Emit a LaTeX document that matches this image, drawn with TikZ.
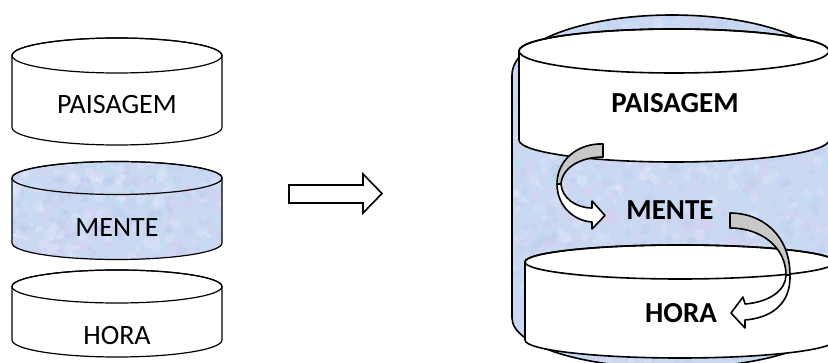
\documentclass[tikz,border=0pt]{standalone}
\usepackage{fontspec}
\setmainfont{Carlito}
\definecolor{marble}{RGB}{203,216,242}
\definecolor{blob0}{RGB}{222,205,238}
\definecolor{blob1}{RGB}{188,226,242}
\definecolor{blob2}{RGB}{232,238,252}
\definecolor{blob3}{RGB}{182,200,236}
\definecolor{backgrey}{RGB}{200,200,200}
\newcommand\cylshape[6]{(#1-#4,#2) -- (#1-#4,#3) arc[start angle=180,end angle=360,x radius=#4pt,y radius=#6pt] -- (#1+#4,#2) arc[start angle=0,end angle=180,x radius=#4pt,y radius=#5pt] -- cycle}
\newcommand\mottle[6]{%
  \pgfmathsetseed{#5}%
  \foreach \k in {1,...,#6}{%
    \pgfmathsetmacro\px{#1+rnd*(#3-#1)}%
    \pgfmathsetmacro\py{#2+rnd*(#4-#2)}%
    \pgfmathsetmacro\pr{2+rnd*4}%
    \pgfmathtruncatemacro\pc{mod(\k,4)}%
    \fill[blob\pc, opacity=0.3] (\px,\py) circle[radius=\pr pt];
  }}
\tikzset{
  lefttext/.style={anchor=base, font=\fontsize{28}{30}\selectfont, inner sep=0pt},
  righttext/.style={anchor=base, font=\fontsize{29}{31}\selectfont\bfseries, inner sep=0pt},
  thinline/.style={line width=1.2pt},
  thickline/.style={line width=1.6pt, line join=round},
}
\begin{document}
\begin{tikzpicture}[x=1pt, y=-1pt]
\useasboundingbox (0,0) rectangle (828,363);
\clip (0,0) rectangle (828,363);

% ---------- left column ----------
\draw[thinline, fill=white] \cylshape{117}{55.5}{127.5}{105}{17.5}{17.5};
\draw[thinline] (117,55.5) ellipse[x radius=105pt, y radius=17.5pt];

\begin{scope}
  \clip \cylshape{117}{178}{243}{105}{16.5}{16.5};
  \fill[marble] (10,155) rectangle (225,265);
  \mottle{10}{155}{225}{265}{11}{500}
\end{scope}
\draw[thinline] \cylshape{117}{178}{243}{105}{16.5}{16.5};
\draw[thinline] (117,178) ellipse[x radius=105pt, y radius=16.5pt];

\draw[thinline, fill=white] \cylshape{117}{286.5}{340}{105}{16.5}{17};
\draw[thinline] (117,286.5) ellipse[x radius=105pt, y radius=16.5pt];

\node[lefttext] (lp) at (117,114) {PAISAGEM};
\node[lefttext] (lm) at (117,237) {MENTE};
\node[lefttext] (lh) at (117,345) {HORA};

% ---------- block arrow ----------
\draw[thickline, line join=miter] (289,185) -- (363,185) -- (363,174) -- (382,193.5) -- (363,213) -- (363,203) -- (289,203) -- cycle;

% ---------- right: back cylinder ----------
\begin{scope}
  \clip \cylshape{672}{75}{318}{160}{60}{50};
  \fill[marble] (505,10) rectangle (840,370);
  \mottle{505}{10}{840}{370}{5}{1600}
\end{scope}
\draw[thickline] \cylshape{672}{75}{318}{160}{60}{50};

% PAISAGEM cylinder
\draw[thickline, fill=white] \cylshape{674}{51}{140}{155}{22}{22};
\draw[thickline] (674,51) ellipse[x radius=155pt, y radius=22pt];

% HORA cylinder
\draw[thickline, fill=white] \cylshape{680}{262}{340}{155}{17}{18};
\draw[thickline] (680,262) ellipse[x radius=155pt, y radius=17pt];

% curved arrow 1
\draw[thickline, fill=backgrey] (603,144) .. controls (578,143) and (557,160) .. (557,184) -- (561,184) .. controls (562,168) and (580,157) .. (603,157) -- cycle;
\draw[thickline, fill=white] (557,184) .. controls (557,206) and (574,221) .. (592,222) -- (592,229) -- (605,215.5) -- (592,201) -- (592,208) .. controls (576,208) and (562,198) .. (561,184) -- cycle;

% curved arrow 2
\draw[thickline, fill=backgrey] (730,213) .. controls (762,213) and (790,235) .. (790,275) -- (786,275) .. controls (786,248) and (762,228) .. (730,228) -- cycle;
\draw[thickline, fill=white] (790,275) .. controls (791,305) and (770,318) .. (745,320) -- (745,328) -- (731,313) -- (743,297) -- (745,304) .. controls (770,302) and (786,290) .. (786,275) -- cycle;

\node[righttext] (rp) at (675,113) {PAISAGEM};
\node[righttext] (rm) at (670,220) {MENTE};
\node[righttext] (rh) at (681,323) {HORA};
\end{tikzpicture}
\end{document}
